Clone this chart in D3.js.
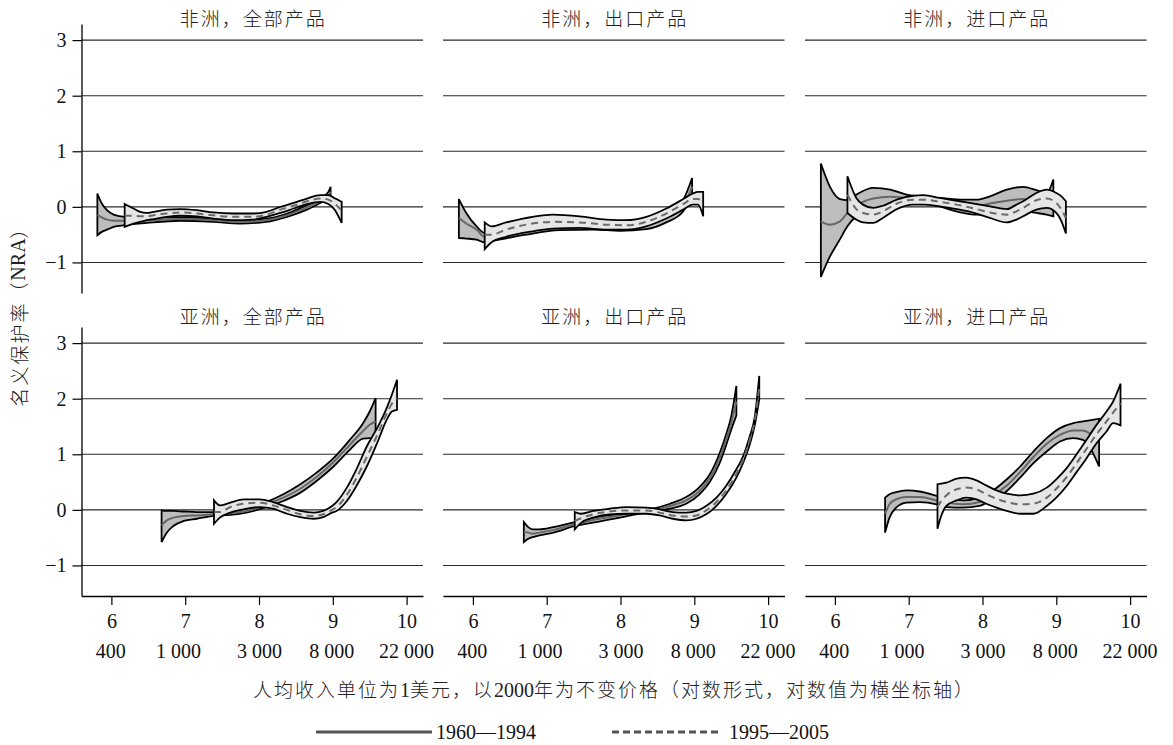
<!DOCTYPE html>
<html>
<head>
<meta charset="utf-8">
<script src="https://cdn.jsdelivr.net/npm/d3@7"></script>
<style>
  body { margin: 0; background: #fff; }
  svg { display: block; }
</style>
</head>
<body>
<svg id="chart" width="1173" height="745"></svg>
<script>
// Fitted nominal rate of assistance against log real income per capita.
// Each row: [log income, lower bound, fitted value, upper bound]

// Africa, all products
const afrAll6094 = [
  [5.81,-0.51,-0.15,0.24],[5.87,-0.45,-0.19,0.06],[5.94,-0.41,-0.23,-0.06],[6.03,-0.36,-0.25,-0.14],
  [6.18,-0.33,-0.25,-0.18],[6.48,-0.29,-0.24,-0.19],[6.93,-0.25,-0.22,-0.19],[7.38,-0.27,-0.24,-0.21],
  [7.74,-0.30,-0.27,-0.23],[8.10,-0.27,-0.24,-0.21],[8.38,-0.18,-0.15,-0.12],[8.65,-0.05,-0.01,0.03],
  [8.83,0.07,0.11,0.15],[8.94,0.15,0.21,0.27],[8.97,0.18,0.27,0.36]
];
const afrAll9505 = [
  [6.18,-0.36,-0.16,0.05],[6.30,-0.30,-0.16,-0.03],[6.39,-0.27,-0.17,-0.09],[6.48,-0.24,-0.17,-0.11],
  [6.57,-0.22,-0.15,-0.09],[6.75,-0.18,-0.12,-0.05],[6.93,-0.16,-0.10,-0.04],[7.16,-0.17,-0.12,-0.06],
  [7.38,-0.21,-0.15,-0.10],[7.65,-0.24,-0.18,-0.12],[7.92,-0.23,-0.18,-0.12],[8.10,-0.18,-0.14,-0.09],
  [8.29,-0.11,-0.05,0.00],[8.47,-0.03,0.02,0.07],[8.65,0.05,0.10,0.15],[8.83,0.09,0.15,0.21],
  [8.94,0.05,0.13,0.21],[9.03,-0.06,0.05,0.15],[9.08,-0.18,-0.01,0.12],[9.12,-0.29,-0.07,0.09]
];

// Africa, exportables
const afrExp6094 = [
  [5.81,-0.56,-0.20,0.14],[5.91,-0.57,-0.30,-0.11],[6.05,-0.59,-0.41,-0.35],[6.16,-0.64,-0.54,-0.47],
  [6.32,-0.60,-0.52,-0.44],[6.72,-0.50,-0.42,-0.35],[7.17,-0.42,-0.36,-0.29],[7.63,-0.41,-0.34,-0.28],
  [7.99,-0.43,-0.37,-0.30],[8.35,-0.40,-0.33,-0.26],[8.62,-0.28,-0.19,-0.11],[8.85,-0.08,0.02,0.13],
  [8.97,0.19,0.36,0.52]
];
const afrExp9505 = [
  [6.16,-0.76,-0.50,-0.28],[6.25,-0.64,-0.50,-0.35],[6.45,-0.54,-0.41,-0.28],[6.81,-0.44,-0.30,-0.18],
  [7.08,-0.39,-0.27,-0.14],[7.45,-0.38,-0.28,-0.17],[7.81,-0.41,-0.32,-0.23],[8.08,-0.41,-0.33,-0.24],
  [8.35,-0.35,-0.27,-0.18],[8.62,-0.21,-0.12,-0.03],[8.85,-0.05,0.05,0.14],[8.98,0.04,0.14,0.24],
  [9.05,0.04,0.14,0.27],[9.12,-0.17,0.07,0.27]
];

// Africa, importables
const afrImp6094 = [
  [5.81,-1.26,-0.26,0.78],[5.93,-0.90,-0.32,0.37],[6.07,-0.58,-0.26,0.14],[6.17,-0.35,-0.11,0.12],
  [6.29,-0.17,0.02,0.22],[6.52,-0.05,0.15,0.34],[6.75,0.04,0.18,0.31],[6.97,0.09,0.16,0.22],
  [7.20,0.10,0.13,0.18],[7.42,0.01,0.09,0.16],[7.74,-0.11,0.02,0.13],[7.92,-0.14,0.01,0.13],
  [8.10,-0.13,0.06,0.19],[8.33,-0.11,0.11,0.31],[8.55,-0.08,0.14,0.36],[8.73,-0.11,0.10,0.30],
  [8.87,-0.14,0.06,0.25],[8.96,-0.17,0.16,0.49]
];
const afrImp9505 = [
  [6.17,-0.11,0.22,0.55],[6.29,-0.23,-0.04,0.16],[6.38,-0.28,-0.11,0.04],[6.52,-0.29,-0.14,-0.02],
  [6.65,-0.20,-0.08,0.02],[6.84,-0.04,0.06,0.13],[7.06,0.04,0.13,0.20],[7.20,0.04,0.13,0.21],
  [7.42,0.01,0.09,0.16],[7.65,-0.04,0.04,0.11],[7.92,-0.12,-0.04,0.05],[8.10,-0.20,-0.10,0.01],
  [8.33,-0.28,-0.14,-0.04],[8.46,-0.23,-0.08,0.04],[8.55,-0.17,-0.02,0.10],[8.73,-0.05,0.12,0.25],
  [8.87,-0.02,0.15,0.31],[9.00,-0.11,0.07,0.25],[9.07,-0.26,-0.05,0.19],[9.13,-0.48,-0.20,0.10]
];

// Asia, all products
const asiaAll6094 = [
  [6.68,-0.58,-0.28,-0.01],[6.75,-0.41,-0.19,-0.02],[6.84,-0.29,-0.14,-0.02],[6.98,-0.20,-0.11,-0.03],
  [7.16,-0.16,-0.10,-0.04],[7.38,-0.11,-0.08,-0.04],[7.61,-0.09,-0.06,-0.02],[7.83,-0.05,-0.02,0.02],
  [8.10,0.05,0.10,0.14],[8.33,0.16,0.22,0.28],[8.56,0.31,0.38,0.46],[8.78,0.52,0.59,0.67],
  [9.01,0.78,0.86,0.93],[9.23,1.08,1.17,1.26],[9.41,1.28,1.42,1.56],[9.50,1.29,1.53,1.77],
  [9.58,1.25,1.59,2.01]
];
const asiaAll9505 = [
  [7.39,-0.25,-0.04,0.17],[7.47,-0.14,-0.04,0.08],[7.61,-0.05,0.05,0.13],[7.79,0.01,0.11,0.19],
  [8.01,0.05,0.13,0.19],[8.19,0.02,0.08,0.14],[8.38,-0.07,0.00,0.05],[8.56,-0.13,-0.08,-0.02],
  [8.74,-0.16,-0.11,-0.05],[8.87,-0.13,-0.08,-0.02],[8.99,-0.05,0.00,0.07],[9.05,-0.02,0.05,0.14],
  [9.19,0.16,0.27,0.40],[9.32,0.43,0.57,0.73],[9.46,0.78,0.95,1.14],[9.60,1.20,1.34,1.47],
  [9.73,1.62,1.73,1.83],[9.80,1.77,1.91,2.07],[9.87,1.80,2.01,2.34]
];

// Asia, exportables
const asiaExp6094 = [
  [6.69,-0.58,-0.40,-0.22],[6.75,-0.52,-0.41,-0.31],[6.81,-0.49,-0.43,-0.35],[6.90,-0.46,-0.41,-0.35],
  [7.09,-0.41,-0.36,-0.31],[7.38,-0.29,-0.26,-0.22],[7.67,-0.22,-0.17,-0.13],[7.99,-0.14,-0.10,-0.07],
  [8.21,-0.08,-0.05,-0.02],[8.44,-0.04,-0.01,0.02],[8.67,0.02,0.07,0.11],[8.89,0.11,0.17,0.23],
  [9.07,0.28,0.34,0.41],[9.21,0.50,0.57,0.64],[9.34,0.83,0.92,1.01],[9.43,1.16,1.26,1.35],
  [9.50,1.44,1.56,1.68],[9.57,1.70,1.95,2.23]
];
const asiaExp9505 = [
  [7.38,-0.35,-0.20,-0.04],[7.47,-0.23,-0.15,-0.07],[7.63,-0.14,-0.08,-0.02],[7.85,-0.08,-0.03,0.02],
  [8.08,-0.07,-0.01,0.05],[8.35,-0.07,-0.01,0.04],[8.53,-0.10,-0.05,0.01],[8.71,-0.16,-0.10,-0.04],
  [8.89,-0.19,-0.12,-0.05],[9.03,-0.16,-0.10,-0.02],[9.16,-0.08,-0.01,0.07],[9.30,0.07,0.14,0.22],
  [9.43,0.28,0.35,0.43],[9.57,0.58,0.65,0.73],[9.66,0.84,0.90,0.96],[9.75,1.17,1.25,1.32],
  [9.82,1.53,1.61,1.68],[9.88,1.99,2.20,2.41]
];

// Asia, importables
const asiaImp6094 = [
  [6.68,-0.41,-0.07,0.22],[6.74,-0.14,0.10,0.28],[6.83,0.04,0.19,0.32],[6.97,0.13,0.23,0.35],
  [7.15,0.14,0.23,0.33],[7.38,0.10,0.17,0.25],[7.51,0.05,0.13,0.20],[7.74,0.04,0.10,0.17],
  [7.96,0.07,0.14,0.22],[8.10,0.16,0.23,0.31],[8.33,0.34,0.44,0.55],[8.51,0.58,0.68,0.78],
  [8.69,0.84,0.95,1.05],[8.87,1.05,1.19,1.29],[9.05,1.23,1.35,1.47],[9.23,1.29,1.43,1.56],
  [9.36,1.26,1.43,1.59],[9.45,1.13,1.38,1.61],[9.58,0.78,1.26,1.64]
];
const asiaImp9505 = [
  [7.39,-0.34,0.05,0.46],[7.44,-0.11,0.16,0.47],[7.51,0.07,0.26,0.49],[7.65,0.17,0.37,0.56],
  [7.78,0.22,0.40,0.58],[7.92,0.19,0.37,0.53],[8.05,0.11,0.28,0.44],[8.19,0.04,0.20,0.35],
  [8.33,-0.02,0.14,0.29],[8.51,-0.07,0.10,0.26],[8.69,-0.07,0.11,0.29],[8.87,0.07,0.22,0.40],
  [9.00,0.22,0.38,0.55],[9.14,0.43,0.59,0.75],[9.27,0.67,0.83,0.99],[9.41,0.93,1.10,1.26],
  [9.54,1.19,1.35,1.52],[9.68,1.41,1.59,1.77],[9.77,1.56,1.75,1.95],[9.87,1.52,1.92,2.27]
];

const panelTitles = ["非洲，全部产品", "非洲，出口产品", "非洲，进口产品",
                     "亚洲，全部产品", "亚洲，出口产品", "亚洲，进口产品"];
const yTicks = [-1, 0, 1, 2, 3];
const xTicks = [6, 7, 8, 9, 10];
const incomeLabels = [400, 1000, 3000, 8000, 22000];
const periodLabels = ["1960—1994", "1995—2005"];

// ---- layout ----
const W = 1173, H = 745;
const colX = [81.5, 443, 805];
const panelW = 341.5;
const rowY = [[24, 293], [327, 596]];
const titleBase = [26, 324];
const xDomain = [5.595, 10.222];
const yDomain = [-1.55, 3.29];

const serif = "'Liberation Serif','Times New Roman',serif";
const cjk = "'Noto Sans CJK SC','Noto Sans CJK JP',sans-serif";

const svg = d3.select("#chart");
svg.append("rect").attr("width", W).attr("height", H).attr("fill", "#fff");

const panels = [
  { early: afrAll6094,  late: afrAll9505 },
  { early: afrExp6094,  late: afrExp9505 },
  { early: afrImp6094,  late: afrImp9505 },
  { early: asiaAll6094, late: asiaAll9505 },
  { early: asiaExp6094, late: asiaExp9505 },
  { early: asiaImp6094, late: asiaImp9505 }
].map((p, i) => ({ ...p, title: panelTitles[i], row: Math.floor(i / 3), col: i % 3 }));

const intFmt = d3.format("d");
const spaced = d3.format(",");

panels.forEach(p => {
  const x0 = colX[p.col];
  const x = d3.scaleLinear().domain(xDomain).range([x0, x0 + panelW]);
  const y = d3.scaleLinear().domain(yDomain).range([rowY[p.row][1], rowY[p.row][0]]);
  const g = svg.append("g");

  // horizontal reference lines
  g.selectAll("line.grid").data(yTicks).join("line")
    .attr("class", "grid")
    .attr("x1", x0).attr("x2", x0 + panelW)
    .attr("y1", d => y(d)).attr("y2", d => y(d))
    .attr("stroke", "#2a2a2a").attr("stroke-width", 1.1);

  // panel title
  g.append("text")
    .attr("x", x0 + panelW / 2 + 1).attr("y", titleBase[p.row])
    .attr("text-anchor", "middle")
    .attr("font-family", cjk).attr("font-size", 19).attr("font-weight", 300)
    .attr("letter-spacing", 2).attr("fill", "#222")
    .text(p.title);

  const band = d3.area()
    .x(d => x(d[0])).y0(d => y(d[1])).y1(d => y(d[3]))
    .curve(d3.curveMonotoneX);
  const fit = d3.line()
    .x(d => x(d[0])).y(d => y(d[2]))
    .curve(d3.curveMonotoneX);

  // 1960-1994: darker band with solid fitted line
  g.append("path").attr("d", band(p.early))
    .attr("fill", "#bdbdbd").attr("stroke", "#000").attr("stroke-width", 1.8)
    .attr("stroke-linejoin", "miter");
  g.append("path").attr("d", fit(p.early))
    .attr("fill", "none").attr("stroke", "#666").attr("stroke-width", 2);

  // 1995-2005: lighter band with dashed fitted line
  g.append("path").attr("d", band(p.late))
    .attr("fill", "#e6e6e6").attr("stroke", "#000").attr("stroke-width", 1.8)
    .attr("stroke-linejoin", "miter");
  g.append("path").attr("d", fit(p.late))
    .attr("fill", "none").attr("stroke", "#6a6a6a").attr("stroke-width", 2)
    .attr("stroke-dasharray", "7,5");

  // vertical axis on the first column
  if (p.col === 0) {
    const ya = g.append("g").attr("transform", `translate(${x0},0)`)
      .call(d3.axisLeft(y).tickValues(yTicks).tickFormat(intFmt)
        .tickSize(9).tickSizeOuter(0).tickPadding(6));
    ya.select(".domain").attr("stroke", "#000").attr("stroke-width", 1.3);
    ya.selectAll(".tick line").attr("stroke", "#000").attr("stroke-width", 1.2);
    ya.selectAll(".tick text").attr("font-family", serif).attr("font-size", 20).attr("fill", "#111");
  }

  // horizontal axis on the bottom row, with income levels beneath the logs
  if (p.row === 1) {
    const xa = g.append("g").attr("transform", `translate(0,${rowY[1][1]})`)
      .call(d3.axisBottom(x).tickValues(xTicks).tickFormat(intFmt)
        .tickSize(9).tickSizeOuter(0).tickPadding(9));
    xa.select(".domain").attr("stroke", "#000").attr("stroke-width", 1.3);
    xa.selectAll(".tick line").attr("stroke", "#000").attr("stroke-width", 1.2);
    xa.selectAll(".tick text").attr("font-family", serif).attr("font-size", 20).attr("fill", "#111");

    g.selectAll("text.income").data(incomeLabels).join("text")
      .attr("class", "income")
      .attr("x", d => x(Math.log(d))).attr("y", 657.5)
      .attr("text-anchor", "middle")
      .attr("font-family", serif).attr("font-size", 20).attr("fill", "#111")
      .text(d => spaced(d).replace(/,/g, " "));
  }
});

// axis titles: CJK runs letter-spaced, numerals set tight in serif
function mixedText(sel, parts) {
  parts.forEach(([t, isNum]) => {
    sel.append("tspan")
      .attr("font-family", isNum ? serif : cjk)
      .attr("font-size", isNum ? 20 : 19)
      .attr("letter-spacing", isNum ? 0 : 2)
      .text(t);
  });
}

const xt = svg.append("text")
  .attr("x", 614).attr("y", 697).attr("text-anchor", "middle")
  .attr("font-weight", 300).attr("fill", "#222");
mixedText(xt, [["人均收入单位为", false], ["1", true], ["美元，以", false], ["2000", true],
               ["年为不变价格（对数形式，对数值为横坐标轴）", false]]);

const yt = svg.append("text")
  .attr("transform", "translate(18,312) rotate(-90)")
  .attr("text-anchor", "middle").attr("dominant-baseline", "central")
  .attr("font-weight", 300).attr("fill", "#222");
mixedText(yt, [["名义保护率（", false], ["NRA", true], ["）", false]]);

// legend
const legend = svg.append("g");
const legendItems = [
  { x1: 316, x2: 432, tx: 436, dash: null },
  { x1: 612, x2: 722, tx: 729, dash: "7,4" }
];
legendItems.forEach((d, i) => {
  legend.append("line")
    .attr("x1", d.x1).attr("x2", d.x2).attr("y1", 732).attr("y2", 732)
    .attr("stroke", "#555").attr("stroke-width", 3)
    .attr("stroke-dasharray", d.dash);
  legend.append("text")
    .attr("x", d.tx).attr("y", 739)
    .attr("font-family", serif).attr("font-size", 20).attr("fill", "#111")
    .text(periodLabels[i]);
});
</script>
</body>
</html>
